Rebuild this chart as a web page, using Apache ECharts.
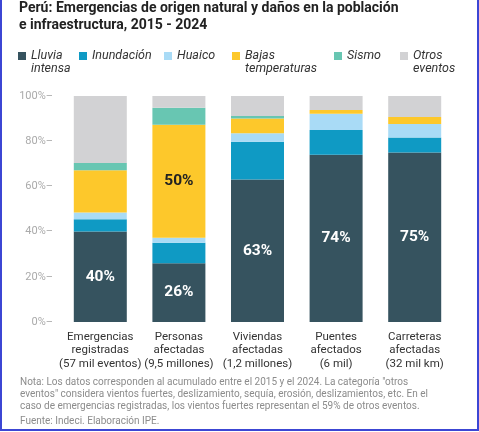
<!DOCTYPE html>
<html>
<head>
<meta charset="utf-8">
<script src="https://cdn.jsdelivr.net/npm/echarts@6/dist/echarts.min.js"></script>
<style>
  html, body { margin: 0; padding: 0; background: #fff; }
  #chart { position: absolute; left: 0; top: 0; width: 479px; height: 432px; }
  #frame { position: absolute; left: 0; top: -3px; width: 475px; height: 430px;
    border: 2px solid #3c46d4; pointer-events: none; }
</style>
</head>
<body>
<div id="chart"></div>
<div id="frame"></div>
<script>
// categorías (eje x)
const categories = [
  'Emergencias\nregistradas\n(57 mil eventos)',
  'Personas\nafectadas\n(9,5 millones)',
  'Viviendas\nafectadas\n(1,2 millones)',
  'Puentes\nafectados\n(6 mil)',
  'Carreteras\nafectadas\n(32 mil km)'
]
const seriesNames = ['Lluvia intensa', 'Inundación', 'Huaico', 'Bajas temperaturas', 'Sismo', 'Otros eventos']
const legendLabels = ['Lluvia\nintensa', 'Inundación', 'Huaico', 'Bajas\ntemperaturas', 'Sismo', 'Otros\neventos']
const colors = ['#36535f', '#0f9ac4', '#a9dbf6', '#fdc82b', '#68c6b2', '#d2d2d4']

// % por categoría
const lluvia = [40, 26, 63, 74, 75]
const inundacion = [5.5, 9.1, 16.8, 11, 6.6]
const huaico = [3, 2.2, 3.7, 7.2, 6]
const bajasTemp = [18.6, 50, 6.5, 1.6, 3.1]
const sismo = [3.3, 7.5, 1.2, 0, 0]
const otros = [29.6, 5.2, 8.8, 6.2, 9.3]

const yTicks = [0, 20, 40, 60, 80, 100]

const nota = 'Nota: Los datos corresponden al acumulado entre el 2015 y el 2024. La categoría "otros\n' +
  'eventos" considera vientos fuertes, deslizamiento, sequía, erosión, deslizamientos, etc. En el\n' +
  'caso de emergencias registradas, los vientos fuertes representan el 59% de otros eventos.'
const fuente = 'Fuente: Indeci. Elaboración IPE.'

const FONT = 'Roboto, sans-serif'
const legendLeft = [18, 79, 164, 232, 334, 400]

const myChart = echarts.init(document.getElementById('chart'), null, { renderer: 'canvas' })

const allData = [lluvia, inundacion, huaico, bajasTemp, sismo, otros]

const series = allData.map((d, i) => {
  let s = {
    name: seriesNames[i],
    type: 'bar',
    stack: 'total',
    barWidth: 53,
    itemStyle: { color: colors[i] },
    data: d.slice()
  }
  if (i === 0) {
    s.label = {
      show: true,
      position: 'inside',
      formatter: '{c}%',
      color: '#fff',
      fontWeight: 'bold',
      fontSize: 15.5,
      fontFamily: FONT
    }
  }
  if (i === 3) {
    // solo se rotula el 50% de personas afectadas
    s.data = d.map((v, j) => j === 1 ? {
      value: v,
      label: { show: true, position: 'inside', formatter: '{c}%', color: '#222', fontWeight: 'bold', fontSize: 15.5, fontFamily: FONT }
    } : v)
  }
  return s
})

// leyendas de dos líneas: se antepone una línea vacía para que la primera quede junto al cuadro
const legends = seriesNames.map((n, i) => {
  const twoLines = legendLabels[i].indexOf('\n') > -1
  return {
    data: [n],
    left: legendLeft[i],
    top: twoLines ? 36.5 : 49.5,
    padding: 0,
    icon: 'rect',
    itemWidth: 8,
    itemHeight: 8,
    selectedMode: false,
    formatter: () => twoLines ? ' \n' + legendLabels[i] : legendLabels[i],
    textStyle: {
      fontFamily: FONT,
      fontStyle: 'italic',
      fontSize: 12.5,
      lineHeight: 13,
      color: '#333'
    }
  }
})

const options = {
  animation: false,
  backgroundColor: '#fff',
  title: [
    {
      text: 'Perú: Emergencias de origen natural y daños en la población\ne infraestructura, 2015 - 2024',
      left: 19,
      top: 0,
      padding: 0,
      textStyle: { fontFamily: FONT, fontWeight: 'bold', fontSize: 14, lineHeight: 17, color: '#222' }
    },
    {
      text: nota,
      left: 20,
      top: 377,
      padding: 0,
      textStyle: { fontFamily: FONT, fontWeight: 'normal', fontSize: 10, lineHeight: 11.7, color: '#8c8c8c' }
    },
    {
      text: fuente,
      left: 20,
      top: 415,
      padding: 0,
      textStyle: { fontFamily: FONT, fontWeight: 'normal', fontSize: 10, lineHeight: 12, color: '#8c8c8c' }
    }
  ],
  legend: legends,
  grid: { left: 61, right: 25, top: 96, bottom: 110 },
  xAxis: {
    type: 'category',
    data: categories,
    axisLine: { show: false },
    axisTick: { show: false },
    axisLabel: {
      interval: 0,
      margin: 8,
      fontFamily: FONT,
      fontSize: 11.5,
      lineHeight: 13.5,
      color: '#333'
    }
  },
  yAxis: {
    type: 'value',
    min: yTicks[0],
    max: yTicks[yTicks.length - 1],
    interval: 20,
    splitLine: { show: false },
    axisLine: { show: false },
    axisTick: { show: false },
    axisLabel: {
      margin: 8,
      fontFamily: FONT,
      fontSize: 11,
      color: '#aaa',
      formatter: '{value}%–'
    }
  },
  series: series
}

myChart.setOption(options)
</script>
</body>
</html>
